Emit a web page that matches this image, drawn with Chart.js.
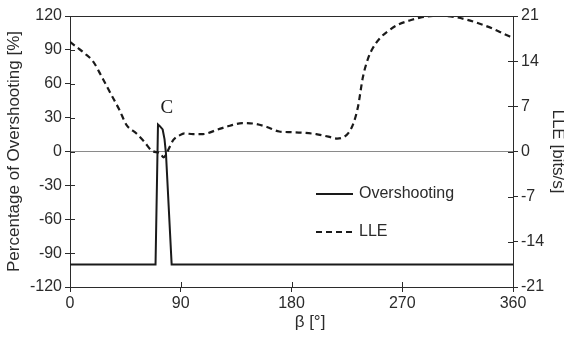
<!DOCTYPE html>
<html>
<head>
<meta charset="utf-8">
<script src="https://cdn.jsdelivr.net/npm/chart.js@4.4.1/dist/chart.umd.min.js"></script>
<style>
  html, body { margin: 0; padding: 0; background: #fff; }
  #wrap { width: 564px; height: 339px; position: relative; }
</style>
</head>
<body>
<div id="wrap"><canvas id="c" width="564" height="339"></canvas></div>
<script>
// ---- data ----
const overshootBeta   = [0, 69.5, 71.5, 73, 75.3, 76.8, 78, 82.6, 360];
const overshootValues = [-100, -100, 24, 22.5, 19.5, 11, -2, -100, -100];

const lleBeta   = [0, 6, 12, 19, 26, 33, 40, 46, 54, 60, 66, 70, 73, 76, 78, 80, 84, 89, 93, 100, 108, 120, 130, 140, 150, 160, 170, 180, 190, 200, 210, 217, 222, 226, 230, 234, 238, 242, 246, 252, 258, 266, 276, 286, 295, 305, 314, 323, 333, 344, 352, 360];
const lleValues = [17.0, 16.1, 15.2, 13.9, 11.5, 9.0, 6.5, 4.1, 2.8, 1.6, 0.2, -0.1, -0.2, -0.9, -0.5, 0.3, 1.8, 2.5, 2.8, 2.7, 2.7, 3.4, 4.0, 4.4, 4.3, 3.8, 3.1, 3.0, 2.9, 2.7, 2.3, 2.0, 2.2, 2.8, 4.2, 6.9, 11.5, 14.3, 16.0, 17.6, 18.6, 19.6, 20.3, 20.8, 21.0, 21.0, 20.8, 20.4, 19.8, 19.0, 18.3, 17.6];

const xTicks      = [0, 90, 180, 270, 360];
const leftTicks   = [-120, -90, -60, -30, 0, 30, 60, 90, 120];
const rightTicks  = [-21, -14, -7, 0, 7, 14, 21];
const seriesNames = ['Overshooting', 'LLE'];
const xTitle = 'β [°]';
const leftTitle = 'Percentage of Overshooting [%]';
const rightTitle = 'LLE [bits/s]';
const peakLabel = { text: 'C', beta: 78.6, value: 38.5 };

// ---- chart ----
const FONT = "'Liberation Sans', Arial, sans-serif";
const INK = '#2b2b2b';
Chart.defaults.font.family = FONT;
Chart.defaults.font.size = 16;
Chart.defaults.color = INK;

const toPts = (xs, ys) => xs.map((x, i) => ({ x: x, y: ys[i] }));

const decor = {
  id: 'decor',
  afterDraw(chart) {
    const ctx = chart.ctx;
    const a = chart.chartArea;
    const sx = chart.scales.x, sl = chart.scales.yL, sr = chart.scales.yR;
    ctx.save();
    ctx.strokeStyle = INK;
    ctx.lineWidth = 1;
    // top frame line
    ctx.beginPath();
    ctx.moveTo(a.left, Math.round(a.top) + 0.5);
    ctx.lineTo(a.right, Math.round(a.top) + 0.5);
    ctx.stroke();
    // inner tick halves
    const L = 5;
    ctx.beginPath();
    leftTicks.forEach(v => { const y = Math.round(sl.getPixelForValue(v)) + 0.5; ctx.moveTo(a.left, y); ctx.lineTo(a.left + L, y); });
    rightTicks.forEach(v => { const y = Math.round(sr.getPixelForValue(v)) + 0.5; ctx.moveTo(a.right - L, y); ctx.lineTo(a.right, y); });
    xTicks.forEach(v => { const x = Math.round(sx.getPixelForValue(v)) + 0.5; ctx.moveTo(x, a.bottom); ctx.lineTo(x, a.bottom - L); });
    ctx.stroke();

    // peak annotation
    ctx.fillStyle = '#1a1a1a';
    ctx.font = "19px 'Liberation Serif', 'Times New Roman', serif";
    ctx.textAlign = 'center';
    ctx.textBaseline = 'middle';
    ctx.fillText(peakLabel.text, sx.getPixelForValue(peakLabel.beta), sl.getPixelForValue(peakLabel.value));

    // x title
    ctx.fillStyle = INK;
    ctx.font = "17px " + FONT;
    ctx.fillText(xTitle, 310, 322);

    // legend
    const lx0 = 316, lx1 = 353, tx = 359;
    const rows = [194, 232];
    ctx.font = "16px " + FONT;
    ctx.textAlign = 'left';
    chart.data.datasets.forEach((ds, i) => {
      ctx.strokeStyle = ds.borderColor;
      ctx.lineWidth = ds.borderWidth;
      ctx.setLineDash(ds.borderDash || []);
      ctx.beginPath();
      ctx.moveTo(lx0, rows[i]);
      ctx.lineTo(lx1, rows[i]);
      ctx.stroke();
      ctx.setLineDash([]);
      ctx.fillStyle = INK;
      ctx.fillText(ds.label, tx, rows[i]);
    });
    ctx.restore();
  }
};

new Chart(document.getElementById('c'), {
  type: 'line',
  data: {
    datasets: [
      {
        label: seriesNames[0],
        data: toPts(overshootBeta, overshootValues),
        yAxisID: 'yL',
        borderColor: '#1a1a1a',
        borderWidth: 2,
        pointRadius: 0,
        tension: 0,
        fill: false
      },
      {
        label: seriesNames[1],
        data: toPts(lleBeta, lleValues),
        yAxisID: 'yR',
        borderColor: '#1a1a1a',
        borderWidth: 2.2,
        borderDash: [6, 4],
        pointRadius: 0,
        cubicInterpolationMode: 'monotone',
        fill: false
      }
    ]
  },
  options: {
    responsive: false,
    animation: false,
    events: [],
    layout: { padding: { top: 16, left: 0, right: 0, bottom: 0 } },
    plugins: { legend: { display: false }, tooltip: { enabled: false } },
    scales: {
      x: {
        type: 'linear',
        min: 0, max: 360,
        afterBuildTicks: s => { s.ticks = xTicks.map(v => ({ value: v })); },
        afterFit: s => { s.height = 52; },
        ticks: { padding: 2, maxRotation: 0, color: INK },
        grid: { drawOnChartArea: false, tickLength: 5, tickColor: INK },
        border: { display: true, color: INK, width: 1 },
        title: { display: false }
      },
      yL: {
        position: 'left',
        min: -120, max: 120,
        afterBuildTicks: s => { s.ticks = leftTicks.map(v => ({ value: v })); },
        afterFit: s => { s.width = 70; },
        ticks: { padding: 3, color: INK },
        grid: {
          drawOnChartArea: true,
          color: c => (c.tick && c.tick.value === 0 ? '#8a8a8a' : 'rgba(0,0,0,0)'),
          tickColor: INK,
          tickLength: 5
        },
        border: { display: true, color: INK, width: 1 },
        title: { display: true, text: leftTitle, color: INK, font: { size: 17, lineHeight: 1.2 }, padding: { top: 4, bottom: 0 } }
      },
      yR: {
        position: 'right',
        min: -21, max: 21,
        afterBuildTicks: s => { s.ticks = rightTicks.map(v => ({ value: v })); },
        afterFit: s => { s.width = 51; },
        ticks: { padding: 3, color: INK },
        grid: { drawOnChartArea: false, tickColor: INK, tickLength: 5 },
        border: { display: true, color: INK, width: 1 },
        title: { display: true, text: rightTitle, color: INK, font: { size: 17, lineHeight: 0.8 }, padding: { top: 0, bottom: 0 } }
      }
    }
  },
  plugins: [decor]
});
</script>
</body>
</html>
